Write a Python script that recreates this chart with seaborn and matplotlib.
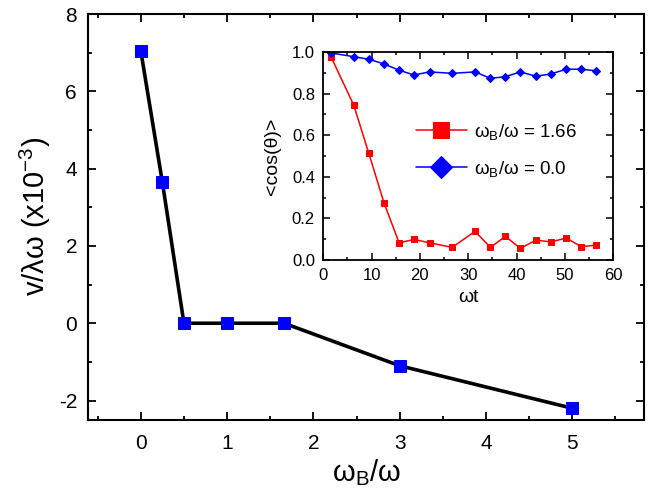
import matplotlib
matplotlib.use("Agg")
import matplotlib.pyplot as plt
from matplotlib.ticker import MultipleLocator, FormatStrFormatter
import numpy as np
import seaborn as sns

# main panel: drift velocity vs field ratio
wb_ratio = [0.0, 0.25, 0.5, 1.0, 1.66, 3.0, 5.0]
velocity = [7.05, 3.65, 0.0, 0.0, 0.0, -1.1, -2.2]

# inset: <cos(theta)> vs omega t
wt = [1.6, 6.3, 9.4, 12.6, 15.7, 18.8, 22.0, 26.7, 31.4, 34.6,
      37.7, 40.8, 44.0, 47.1, 50.3, 53.4, 56.5]
cos_166 = [0.977, 0.745, 0.515, 0.273, 0.083, 0.099, 0.083, 0.061, 0.138, 0.061,
           0.114, 0.056, 0.096, 0.087, 0.106, 0.064, 0.072]
cos_00 = [0.995, 0.977, 0.965, 0.942, 0.912, 0.889, 0.904, 0.897, 0.904, 0.873,
          0.881, 0.904, 0.883, 0.894, 0.917, 0.917, 0.909]

sns.set_style("ticks")
plt.rcParams['font.family'] = ['Liberation Sans', 'DejaVu Sans']
plt.rcParams['mathtext.default'] = 'regular'
plt.rcParams['axes.unicode_minus'] = False
for k in ['axes.edgecolor', 'xtick.color', 'ytick.color', 'text.color',
          'axes.labelcolor']:
    plt.rcParams[k] = 'black'

fig = plt.figure(figsize=(6.53, 5.04), dpi=100)
ax = fig.add_axes([0.135, 0.167, 0.851, 0.805])

sns.lineplot(x=wb_ratio, y=velocity, ax=ax, color='black', linewidth=2.6,
             marker='s', markersize=8, markerfacecolor='blue',
             markeredgecolor='blue', sort=False)

ax.set_xlim(-0.61, 5.83)
ax.set_ylim(-2.5, 8)
ax.xaxis.set_major_locator(MultipleLocator(1))
ax.xaxis.set_minor_locator(MultipleLocator(0.5))
ax.yaxis.set_major_locator(MultipleLocator(2))
ax.yaxis.set_minor_locator(MultipleLocator(1))
ax.tick_params(which='both', direction='in', top=True, right=True,
               width=1.3, labelsize=15)
ax.tick_params(axis='x', pad=10)
ax.tick_params(axis='y', pad=8)
ax.tick_params(which='major', length=6)
ax.tick_params(which='minor', length=3)
for s in ax.spines.values():
    s.set_linewidth(1.5)
ax.set_xlabel(r'ω$_B$/ω', fontsize=21, labelpad=3)
ax.set_ylabel(r'v/λω (x10$^{-3}$)', fontsize=21, labelpad=4)

# inset
ins = fig.add_axes([0.495, 0.484, 0.444, 0.413])
sns.lineplot(x=wt, y=cos_166, ax=ins, color='red', linewidth=1.1,
             marker='s', markersize=4.5, markerfacecolor='red',
             markeredgecolor='red', label='ω$_B$/ω = 1.66', sort=False)
sns.lineplot(x=wt, y=cos_00, ax=ins, color='blue', linewidth=1.1,
             marker='D', markersize=4.5, markerfacecolor='blue',
             markeredgecolor='blue', label='ω$_B$/ω = 0.0', sort=False)

ins.set_xlim(0, 60)
ins.set_ylim(0, 1.0)
ins.xaxis.set_major_locator(MultipleLocator(10))
ins.xaxis.set_minor_locator(MultipleLocator(5))
ins.yaxis.set_major_locator(MultipleLocator(0.2))
ins.yaxis.set_minor_locator(MultipleLocator(0.1))
ins.yaxis.set_major_formatter(FormatStrFormatter('%.1f'))
ins.tick_params(which='both', direction='in', top=True, right=True,
                width=1.1, labelsize=12, pad=6)
ins.tick_params(which='major', length=5)
ins.tick_params(which='minor', length=2.5)
for s in ins.spines.values():
    s.set_linewidth(1.3)
ins.set_xlabel('ωt', fontsize=14, labelpad=4)
ins.set_ylabel('<cos(θ)>', fontsize=14, labelpad=8)
ins.legend(loc='upper left', bbox_to_anchor=(0.32, 0.665), frameon=False,
           borderpad=0, borderaxespad=0, fontsize=13.5, markerscale=2.5,
           handlelength=2.7, handletextpad=0.4, labelspacing=0.9)

fig.savefig('out.png', dpi=100)
